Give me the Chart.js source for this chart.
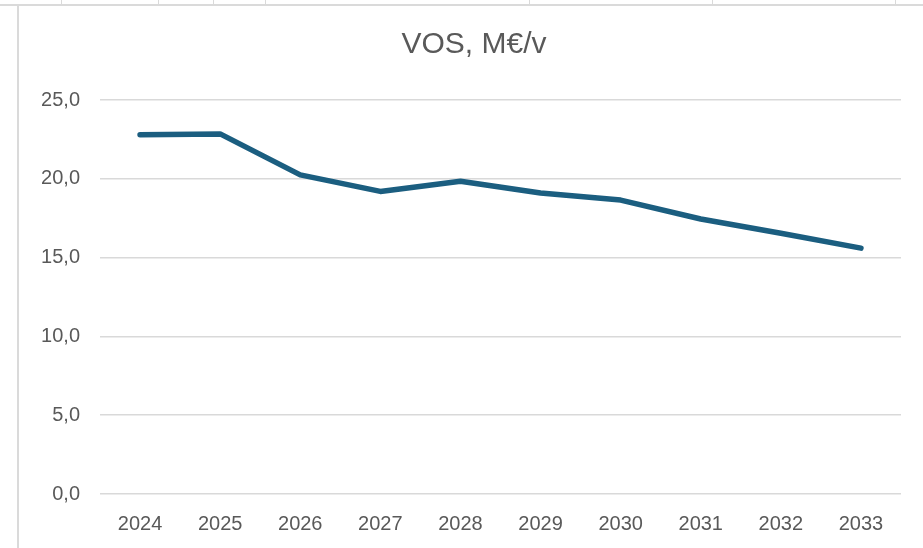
<!DOCTYPE html>
<html>
<head>
<meta charset="utf-8">
<script src="https://cdn.jsdelivr.net/npm/chart.js@4"></script>
<style>
  html, body { margin: 0; padding: 0; background: #fff; }
  #wrap { position: relative; width: 923px; height: 548px; overflow: hidden; }
  canvas { position: absolute; left: 0; top: 0; }
  .ln { position: absolute; background: #dadada; }
</style>
</head>
<body>
<div id="wrap">
  <!-- spreadsheet cell lines around the chart box -->
  <div class="ln" style="left:0;top:4px;width:923px;height:2px;"></div>
  <div class="ln" style="left:61px;top:0;width:1px;height:5px;"></div>
  <div class="ln" style="left:158px;top:0;width:1px;height:5px;"></div>
  <div class="ln" style="left:213px;top:0;width:1px;height:5px;"></div>
  <div class="ln" style="left:265px;top:0;width:1px;height:5px;"></div>
  <div class="ln" style="left:529px;top:0;width:1px;height:5px;"></div>
  <div class="ln" style="left:712px;top:0;width:1px;height:5px;"></div>
  <div class="ln" style="left:895px;top:0;width:1px;height:5px;"></div>
  <div class="ln" style="left:17px;top:6px;width:2px;height:542px;"></div>
  <canvas id="vosChart" width="923" height="548"></canvas>
</div>
<script>
// === DATA ===
const years = ['2024', '2025', '2026', '2027', '2028', '2029', '2030', '2031', '2032', '2033'];
const vosValues = [22.8, 22.85, 20.25, 19.2, 19.85, 19.1, 18.65, 17.45, 16.55, 15.6];
const yTicks = [0, 5, 10, 15, 20, 25];
const chartTitle = 'VOS, M€/v';

const grey = '#595959';
const tickFont = { family: 'Liberation Sans', size: 20, lineHeight: 1.2 };

// title drawn by hand: Chart.js centres it over the whole canvas,
// the original sits a bit right of that (centre of the chart box)
const boxTitle = {
  id: 'boxTitle',
  afterDraw(c) {
    const g = c.ctx;
    g.save();
    g.font = '30px "Liberation Sans"';
    g.fillStyle = grey;
    g.textAlign = 'center';
    g.textBaseline = 'middle';
    g.fillText(chartTitle, 474, 45);
    g.restore();
  }
};

// === CREATE CHART ===
const ctx = document.getElementById('vosChart').getContext('2d');
const chart = new Chart(ctx, {
  type: 'line',
  data: {
    labels: years,
    datasets: [{
      label: 'VOS',
      data: vosValues,
      borderColor: '#1b5e80',
      borderWidth: 5.5,
      borderCapStyle: 'round',
      borderJoinStyle: 'round',
      tension: 0,
      pointRadius: 0,
      fill: false
    }]
  },
  options: {
    responsive: false,
    animation: false,
    layout: { padding: { left: 25, right: 22, top: 100, bottom: 0 } },
    plugins: {
      legend: { display: false },
      tooltip: { enabled: false },
      title: { display: false }
    },
    scales: {
      x: {
        offset: true,
        grid: { display: false, drawTicks: false },
        border: { display: false },
        ticks: { color: grey, font: tickFont, padding: 18, maxRotation: 0, autoSkip: false },
        afterFit: s => { s.height = 54; }
      },
      y: {
        min: 0,
        max: 25,
        afterBuildTicks: s => { s.ticks = yTicks.map(v => ({ value: v })); },
        grid: { color: '#d9d9d9', lineWidth: 1.5, drawTicks: false },
        border: { display: false },
        ticks: {
          color: grey,
          font: tickFont,
          padding: 20,
          callback: v => v.toFixed(1).replace('.', ',')
        },
        afterFit: s => { s.width = 75; }
      }
    }
  },
  plugins: [boxTitle]
});
</script>
</body>
</html>
